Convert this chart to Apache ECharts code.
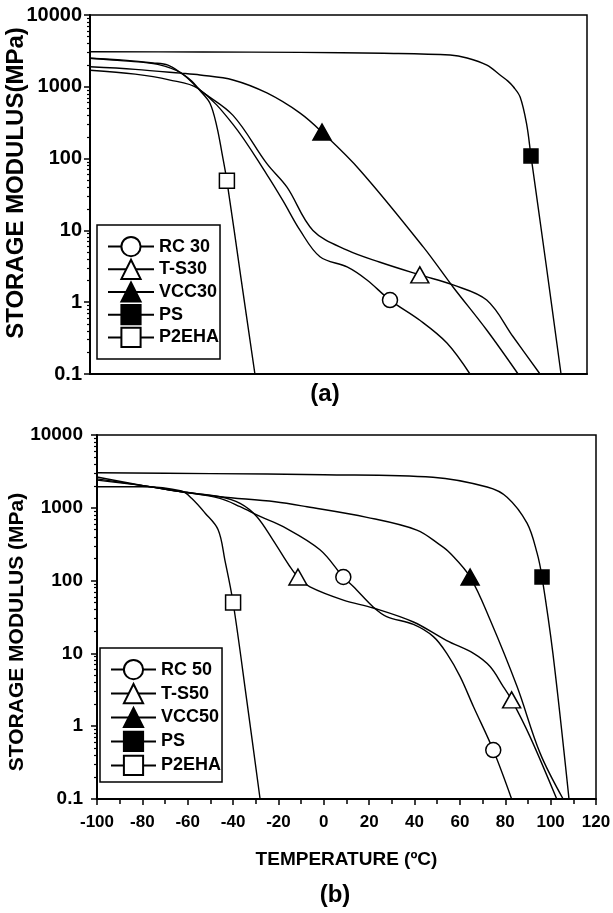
<!DOCTYPE html>
<html>
<head>
<meta charset="utf-8">
<title>Storage modulus vs temperature</title>
<script src="https://cdn.jsdelivr.net/npm/echarts@6.0.0/dist/echarts.min.js"></script>
<style>
    html, body { margin: 0; padding: 0; background: #fff; }
    #app { width: 613px; height: 913px; }
</style>
</head>
<body>
<div id="app"></div>
<script>
// 坐标轴刻度
const tempMin = -100, tempMax = 120, tempStep = 20;
const modulusTicks = [0.1, 1, 10, 100, 1000, 10000];
// 对数轴的次刻度 (2..9 x 每个数量级)
const modulusMinor = [];
modulusTicks.slice(0, -1).forEach(function(d) {
    for (let k = 2; k <= 9; k++) modulusMinor.push(+(d * k).toPrecision(3));
});

// 图例名称
const namesA = ['RC 30', 'T-S30', 'VCC30', 'PS', 'P2EHA'];
const namesB = ['RC 50', 'T-S50', 'VCC50', 'PS', 'P2EHA'];

// (a) 曲线 [温度 ℃, 储能模量 MPa]
const rc30 = [[-100, 1700], [-80, 1500], [-65, 1250], [-52.2, 950], [-36.7, 300], [-21.7, 60], [-14.6, 26], [-7, 10],
    [1.8, 4.3], [13.8, 3.1], [22.6, 2.04], [32.8, 1.07], [46, 0.56], [58, 0.27], [68.2, 0.1]];
const ts30 = [[-100, 2500], [-85, 2300], [-70, 2050], [-59.6, 1550], [-51.3, 900], [-36.7, 400], [-21.7, 85], [-12.8, 40],
    [-1.3, 10], [13.8, 5.3], [28.4, 3.6], [46, 2.4], [60.7, 1.74], [75.6, 1.07], [87.3, 0.33], [99.2, 0.1]];
const vcc30 = [[-100, 1900], [-80, 1750], [-60, 1550], [-51.3, 1460], [-36.7, 1245], [-21.7, 820], [-7, 430], [2.7, 234],
    [19.5, 69], [47.5, 5.9], [60.7, 1.63], [75.6, 0.41], [89.5, 0.1]];
const psA = [[-100, 3080], [-50, 3050], [-7, 3020], [30, 2930], [59.4, 2770], [66.9, 2520], [75.7, 2000], [81.5, 1460],
    [85, 1200], [87.4, 1000], [90.4, 720], [93.3, 300], [95.2, 109], [101.9, 3.35], [108.5, 0.1]];
const p2ehaA = [[-100, 2500], [-85, 2350], [-72, 2150], [-65.5, 2000], [-59.6, 1550], [-55, 1200], [-51.5, 900],
    [-46.9, 590], [-43.8, 275], [-41.6, 120], [-39.4, 49], [-33.2, 2.2], [-27, 0.1]];

// (a) 标记点
const rc30Marks = [[32.8, 1.07]];
const ts30Marks = [[46, 2.4]];
const vcc30Marks = [[2.7, 234]];
const psAMarks = [[95.2, 109]];
const p2ehaAMarks = [[-39.4, 49]];

// (b) 曲线
const rc50 = [[-100, 2500], [-79, 2000], [-62.7, 1660], [-45.8, 1350], [-36.9, 1035], [-28.1, 760], [-17.9, 550],
    [-1.7, 265], [8.6, 112], [13, 83], [21.9, 43], [27.7, 32], [39.5, 25], [48.3, 17], [54.2, 10], [60.1, 4.8],
    [66, 1.85], [74.7, 0.47], [82.8, 0.1]];
const ts50 = [[-100, 2400], [-79, 2000], [-62.7, 1660], [-45.8, 1420], [-36.9, 1150], [-29.6, 760], [-22.4, 360],
    [-14.9, 155], [-11.4, 112], [-6.1, 82], [8.6, 54], [21.9, 42], [39.5, 27], [54.2, 15], [66, 10], [73.3, 6.6],
    [79.1, 3.5], [82.8, 2.3], [90.9, 0.72], [102.7, 0.1]];
const vcc50 = [[-100, 2650], [-79, 2000], [-62.7, 1660], [-45.8, 1420], [-21.5, 1210], [-7.4, 1035], [19, 740],
    [41, 495], [51.2, 310], [55.6, 240], [64.5, 112], [73.3, 29], [85.2, 3.5], [95.3, 0.43], [105.5, 0.1]];
const psB = [[-100, 3030], [-50, 2950], [0, 2850], [48.1, 2630], [72, 1930], [80.8, 1400], [89.6, 615], [94, 240],
    [96.2, 112], [101, 10], [108.1, 0.1]];
const p2ehaB = [[-100, 1950], [-80, 1950], [-62.7, 1700], [-58.3, 1350], [-52.4, 850], [-46.6, 500], [-43.6, 190],
    [-40, 50], [-34, 2.3], [-28.1, 0.1]];

// (b) 标记点
const rc50Marks = [[8.6, 112], [74.7, 0.47]];
const ts50Marks = [[-11.4, 112], [82.8, 2.3]];
const vcc50Marks = [[64.5, 112]];
const psBMarks = [[96.2, 112]];
const p2ehaBMarks = [[-40, 50]];

// 标记样式
const styles = {
    rc: { symbol: 'circle', size: 15, fill: '#fff' },
    ts: { symbol: 'triangle', size: [18, 16], fill: '#fff' },
    vcc: { symbol: 'triangle', size: [18, 16], fill: '#000' },
    ps: { symbol: 'rect', size: 14, fill: '#000' },
    p2eha: { symbol: 'rect', size: 15, fill: '#fff' }
};

const font = 'Liberation Sans, Arial, sans-serif';

// 曲线
function curve(name, data, st, g) {
    return {
        name: name, type: 'line', data: data,
        xAxisIndex: g, yAxisIndex: g * 2,
        smooth: 0.35, showSymbol: false,
        symbol: st.symbol, symbolSize: st.size,
        lineStyle: { color: '#000', width: 1.4 },
        itemStyle: { color: st.fill, borderColor: '#000', borderWidth: 1.5, opacity: 1 },
        silent: true, z: 2
    };
}

// 标记点
function marks(data, st, g) {
    return {
        type: 'scatter', data: data,
        xAxisIndex: g, yAxisIndex: g * 2,
        symbol: st.symbol, symbolSize: st.size,
        itemStyle: { color: st.fill, borderColor: '#000', borderWidth: 1.5, opacity: 1 },
        silent: true, z: 3
    };
}

function xAxis(g, withLabels) {
    return {
        type: 'value', gridIndex: g, min: tempMin, max: tempMax, interval: tempStep,
        axisLine: { onZero: false, lineStyle: { color: '#000', width: 2 } },
        axisTick: { show: withLabels, length: 6, lineStyle: { color: '#000', width: 1.5 } },
        minorTick: { show: withLabels, splitNumber: 2, length: 5, lineStyle: { color: '#000', width: 1.5 } },
        axisLabel: { show: withLabels, margin: 15, color: '#000', fontSize: 17, fontWeight: 'bold', fontFamily: font },
        splitLine: { show: false },
        name: withLabels ? 'TEMPERATURE (ºC)' : '',
        nameLocation: 'middle', nameGap: 51,
        nameTextStyle: { color: '#000', fontSize: 19, fontWeight: 'bold', fontFamily: font }
    };
}

function yAxes(g, labelSize, labelMargin) {
    return [{
        type: 'log', logBase: 10, gridIndex: g, min: 0.1, max: 10000,
        position: 'left', offset: 0,
        axisLine: { onZero: false, lineStyle: { color: '#000', width: 2 } },
        axisTick: { length: 6, customValues: modulusTicks, lineStyle: { color: '#000', width: 1.5 } },
        axisLabel: {
            customValues: modulusTicks, margin: labelMargin, color: '#000',
            fontSize: labelSize, fontWeight: 'bold', fontFamily: font,
            formatter: function(v) { return String(+(+v).toPrecision(6)); }
        },
        splitLine: { show: false }
    }, {
        type: 'log', logBase: 10, gridIndex: g, min: 0.1, max: 10000,
        position: 'left', offset: 0,
        axisLine: { show: false, onZero: false },
        axisTick: { length: 3, customValues: modulusMinor, lineStyle: { color: '#000', width: 1.2 } },
        axisLabel: { show: false },
        splitLine: { show: false }
    }];
}

function legend(names, left, top, pad, itemW, gap) {
    return {
        data: names, orient: 'vertical', left: left, top: top,
        padding: pad, itemWidth: itemW, itemHeight: 24, itemGap: gap,
        borderColor: '#000', borderWidth: 1.5, backgroundColor: '#fff',
        selectedMode: false,
        textStyle: { color: '#000', fontSize: 18, fontWeight: 'bold', fontFamily: font }
    };
}

// 旋转的纵轴标题 / 面板标签
function label(text, x, y, size, rotate) {
    return {
        type: 'text', x: x, y: y, rotation: rotate ? Math.PI / 2 : 0,
        style: { text: text, fill: '#000', font: 'bold ' + size + 'px ' + font, align: 'center', verticalAlign: 'middle' }
    };
}

const chart = echarts.init(document.getElementById('app'), null, { renderer: 'canvas' });

const option = {
    animation: false,
    backgroundColor: '#fff',
    grid: [
        { left: 90, top: 15, width: 497, height: 359, show: true, borderColor: '#000', borderWidth: 1.5,
          containLabel: false, outerBoundsMode: 'none' },
        { left: 97, top: 435, width: 499, height: 364, show: true, borderColor: '#000', borderWidth: 1.5,
          containLabel: false, outerBoundsMode: 'none' }
    ],
    xAxis: [xAxis(0, false), xAxis(1, true)],
    yAxis: yAxes(0, 20, 8).concat(yAxes(1, 19, 14)),
    legend: [
        legend(namesA, 97, 225, [11, 1, 11, 10], 46, 1.5),
        legend(namesB, 100, 648, [11, 1, 6, 10], 45, 2.75)
    ],
    graphic: [
        label('STORAGE MODULUS(MPa)', 16, 183, 24, true),
        label('STORAGE MODULUS (MPa)', 17, 632, 21, true),
        label('(a)', 325, 394, 24, false),
        label('(b)', 335, 895, 24, false)
    ],
    series: [
        curve(namesA[0], rc30, styles.rc, 0),
        curve(namesA[1], ts30, styles.ts, 0),
        curve(namesA[2], vcc30, styles.vcc, 0),
        curve(namesA[3], psA, styles.ps, 0),
        curve(namesA[4], p2ehaA, styles.p2eha, 0),
        marks(rc30Marks, styles.rc, 0),
        marks(ts30Marks, styles.ts, 0),
        marks(vcc30Marks, styles.vcc, 0),
        marks(psAMarks, styles.ps, 0),
        marks(p2ehaAMarks, styles.p2eha, 0),
        curve(namesB[0], rc50, styles.rc, 1),
        curve(namesB[1], ts50, styles.ts, 1),
        curve(namesB[2], vcc50, styles.vcc, 1),
        curve(namesB[3], psB, styles.ps, 1),
        curve(namesB[4], p2ehaB, styles.p2eha, 1),
        marks(rc50Marks, styles.rc, 1),
        marks(ts50Marks, styles.ts, 1),
        marks(vcc50Marks, styles.vcc, 1),
        marks(psBMarks, styles.ps, 1),
        marks(p2ehaBMarks, styles.p2eha, 1)
    ]
};

chart.setOption(option);
</script>
</body>
</html>
